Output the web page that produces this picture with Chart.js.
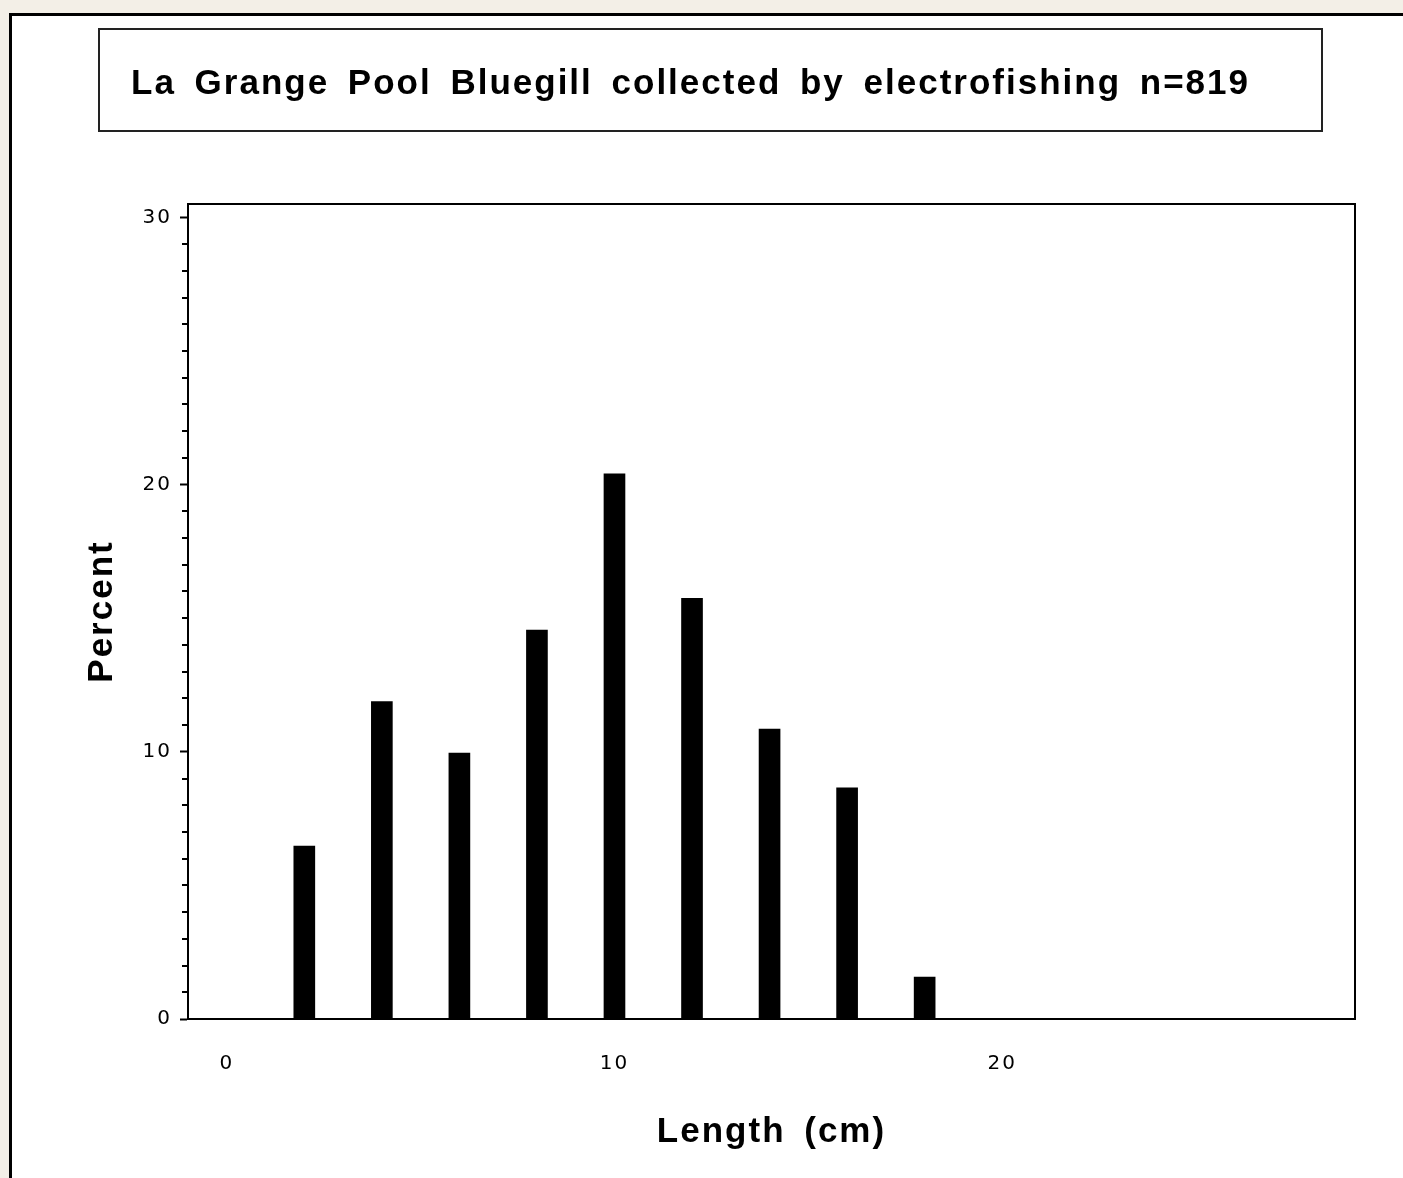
<!DOCTYPE html>
<html>
<head>
<meta charset="utf-8">
<title>La Grange Pool Bluegill</title>
<script src="https://cdn.jsdelivr.net/npm/chart.js@4.4.1/dist/chart.umd.min.js"></script>
<style>
  html, body { margin: 0; padding: 0; overflow: hidden; }
  body { width: 1403px; height: 1178px; background: #f3efe7; position: relative; }
  /* white page with a heavy black frame, running off the right and bottom edges */
  .frame {
    position: absolute; left: 9px; top: 13px;
    width: 1500px; height: 1300px;
    border: 3px solid #000; background: #fff;
  }
  canvas { position: absolute; left: 0; top: 0; }
</style>
</head>
<body>
<div class="frame"></div>
<canvas id="chart" width="1403" height="1178"></canvas>
<script>
// Length classes (cm) and percent of fish in each class
const LENGTHS = [2, 4, 6, 8, 10, 12, 14, 16, 18];
const PERCENT = [6.47, 11.88, 9.95, 14.55, 20.4, 15.74, 10.85, 8.65, 1.57];

// Axis ticks
const X_TICKS = [0, 10, 20];
const Y_LABELS = [0, 10, 20, 30];

const TITLE = "La Grange Pool Bluegill collected by electrofishing n=819";

const INK = "#000";
const LABEL_FONT = { family: "Liberation Sans", size: 35, weight: "bold" };
const TICK_FONT = { family: "DejaVu Sans", size: 20 };

// The old plotter font is set wide: space the letters and words out.
const spacing = {
  id: "spacing",
  beforeDraw(chart) {
    chart.ctx.letterSpacing = "2px";
    chart.ctx.wordSpacing = "7px";
  },
  afterDraw(chart) {
    chart.ctx.letterSpacing = "0px";
    chart.ctx.wordSpacing = "0px";
  },
};

// Box round the title, and the frame round the plot area plus minor y ticks.
const decorations = {
  id: "decorations",
  beforeDraw(chart) {
    const ctx = chart.ctx;
    ctx.save();
    ctx.strokeStyle = "#222";
    ctx.lineWidth = 2;
    ctx.strokeRect(99, 29, 1223, 102);
    ctx.restore();
  },
  afterDraw(chart) {
    const { ctx, chartArea: a } = chart;
    const y = chart.scales.y;
    ctx.save();
    ctx.strokeStyle = INK;
    ctx.lineWidth = 2;
    ctx.strokeRect(a.left, a.top, a.right - a.left, a.bottom - a.top);
    // minor ticks: shorter than the labelled ones
    ctx.beginPath();
    y.ticks.forEach((t) => {
      if (Y_LABELS.includes(t.value)) return;
      const py = Math.round(y.getPixelForValue(t.value));
      ctx.moveTo(a.left - 6, py);
      ctx.lineTo(a.left, py);
    });
    ctx.stroke();
    ctx.restore();
  },
};

new Chart(document.getElementById("chart"), {
  type: "bar",
  data: {
    datasets: [
      {
        label: "Percent",
        data: LENGTHS.map((x, i) => ({ x, y: PERCENT[i] })),
        backgroundColor: INK,
        borderWidth: 0,
        barThickness: 21,
      },
    ],
  },
  options: {
    responsive: false,
    animation: false,
    devicePixelRatio: 1,
    layout: { padding: { left: 26, right: 48, top: 0, bottom: 0 } },
    plugins: {
      legend: { display: false },
      tooltip: { enabled: false },
      title: {
        display: true,
        text: TITLE,
        color: INK,
        font: LABEL_FONT,
        padding: { top: 63, bottom: 99 },
      },
    },
    scales: {
      x: {
        type: "linear",
        min: -1,
        max: 29.1,
        offset: false,
        afterBuildTicks: (scale) => {
          scale.ticks = X_TICKS.map((v) => ({ value: v }));
        },
        afterFit: (scale) => {
          scale.height = 159;
        },
        grid: { display: false, drawTicks: false },
        border: { display: true, color: INK, width: 2 },
        ticks: { color: INK, font: TICK_FONT, padding: 33, maxRotation: 0 },
        title: {
          display: true,
          text: "Length (cm)",
          color: INK,
          font: LABEL_FONT,
          padding: { top: 0, bottom: 25 },
        },
      },
      y: {
        min: 0,
        max: 30.5,
        afterFit: (scale) => {
          scale.width = 162;
        },
        grid: {
          display: true,
          drawOnChartArea: false,
          drawTicks: true,
          tickLength: 8,
          tickWidth: 2,
          tickColor: (c) =>
            c.tick && Y_LABELS.includes(c.tick.value) ? INK : "rgba(0,0,0,0)",
        },
        border: { display: true, color: INK, width: 2 },
        ticks: {
          stepSize: 1,
          includeBounds: false,
          autoSkip: false,
          color: INK,
          font: TICK_FONT,
          padding: 8,
          callback: (v) => (Y_LABELS.includes(v) ? String(v) : ""),
        },
        title: {
          display: true,
          text: "Percent",
          color: INK,
          font: LABEL_FONT,
          padding: { top: 55, bottom: 0 },
        },
      },
    },
  },
  plugins: [spacing, decorations],
});
</script>
</body>
</html>
